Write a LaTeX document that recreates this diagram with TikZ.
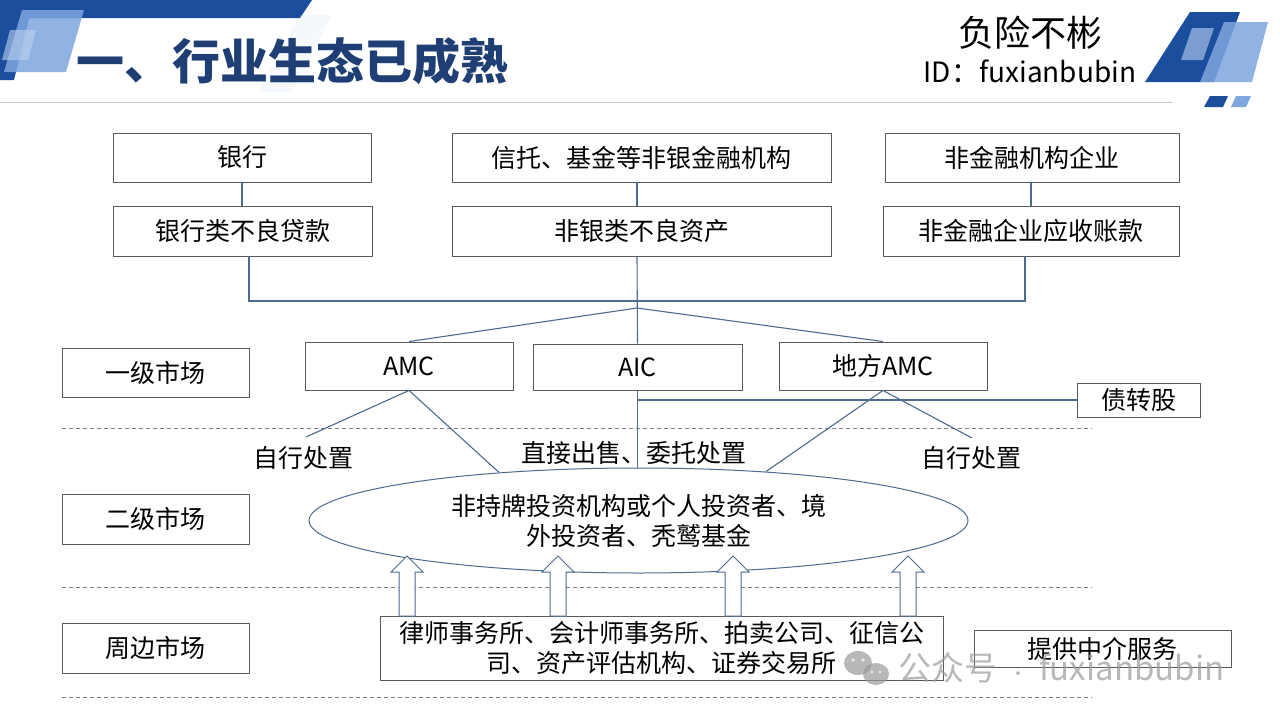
\documentclass[tikz,border=0pt]{standalone}
\usepackage{fontspec}
\setmainfont{Noto Sans CJK SC}
\usetikzlibrary{shapes.geometric}
\definecolor{boxgray}{HTML}{5A5A5A}
\definecolor{conn}{HTML}{4D6B8E}
\definecolor{sepgray}{HTML}{808080}
\definecolor{titleblue}{HTML}{1F3F74}
\definecolor{deco}{HTML}{1C4E9E}
\definecolor{decolight}{HTML}{7EA6DF}
\definecolor{decopale}{HTML}{BDD2F0}
\definecolor{wm}{HTML}{9A9A9A}
\newcommand\blockup[1]{\draw[blockarr] (#1-8,616) -- (#1-8,572) -- (#1-16,572) -- (#1,556) -- (#1+16,572) -- (#1+8,572) -- (#1+8,616) -- cycle;}
\begin{document}
\begin{tikzpicture}[x=1pt,y=-1pt,
  box/.style={draw=boxgray,line width=0.9pt,rectangle,inner sep=0pt,font=\fontsize{25}{30}\selectfont,align=center},
  lbl/.style={inner sep=0pt,font=\fontsize{25}{30}\selectfont},
  link/.style={draw=conn,line width=1.1pt},
  sepline/.style={draw=sepgray,line width=0.8pt,dash pattern=on 4pt off 3pt},
  blockarr/.style={draw=conn,fill=white,line width=1pt,line join=miter},
]
\useasboundingbox[fill=white] (0,0) rectangle (1280,720);

% ---------- header decoration ----------
\fill[deco] (0,0) -- (312,0) -- (300,18) -- (0,18) -- cycle;
\fill[decopale,opacity=0.15] (300,15) -- (332,15) -- (292,92) -- (258,92) -- cycle;
\fill[deco] (0,15) -- (30,15) -- (14,80) -- (0,80) -- cycle;
\fill[decolight,opacity=0.85] (22,10) -- (84,10) -- (66,72) -- (4,72) -- cycle;
\fill[decopale,opacity=0.6] (10,30) -- (36,30) -- (28,60) -- (2,60) -- cycle;

\fill[deco] (1190,12) -- (1240,12) -- (1214,82) -- (1145,82) -- cycle;
\fill[decolight,opacity=0.85] (1224,22) -- (1268,22) -- (1252,82) -- (1200,82) -- cycle;
\fill[decopale,opacity=0.6] (1192,28) -- (1214,28) -- (1203,60) -- (1181,60) -- cycle;
\fill[deco] (1210,96) -- (1228,96) -- (1223,107) -- (1204,107) -- cycle;
\fill[decolight] (1236,96) -- (1251,96) -- (1246,107) -- (1231,107) -- cycle;

\draw[gray!45,line width=1pt] (0,102) -- (1172,102);

\node[anchor=west,inner sep=0pt,text=titleblue,font=\fontsize{48}{48}\selectfont\bfseries] (title) at (76,61) {一、行业生态已成熟};
\node[inner sep=0pt,font=\fontsize{36}{36}\selectfont] (brand) at (1030,33) {负险不彬};
\node[inner sep=0pt,font=\fontsize{28}{28}\selectfont] (bid) at (1030,71) {ID：fuxianbubin};

% ---------- separators ----------
\draw[sepline] (62,428) -- (1092,428);
\draw[sepline] (62,587) -- (1092,587);
\draw[sepline] (62,697) -- (1092,697);

% ---------- sources ----------
\node[box,minimum width=258pt,minimum height=49pt] (bank) at (242,157.5) {银行};
\node[box,minimum width=379pt,minimum height=49pt] (trust) at (641.5,157.5) {信托、基金等非银金融机构};
\node[box,minimum width=294pt,minimum height=49pt] (nonfin) at (1032,157.5) {非金融机构企业};
\node[box,minimum width=259pt,minimum height=50pt] (bankloan) at (242.5,231) {银行类不良贷款};
\node[box,minimum width=379pt,minimum height=50pt] (nonbank) at (641.5,231) {非银类不良资产};
\node[box,minimum width=296pt,minimum height=50pt] (recv) at (1031,231) {非金融企业应收账款};

% ---------- market labels ----------
\node[box,minimum width=187pt,minimum height=49pt] (m1) at (155.5,372.5) {一级市场};
\node[box,minimum width=187pt,minimum height=50pt] (m2) at (155.5,519) {二级市场};
\node[box,minimum width=187pt,minimum height=50pt] (m3) at (155.5,648) {周边市场};

% ---------- primary market ----------
\node[box,minimum width=208pt,minimum height=48pt] (amc) at (409,366) {AMC};
\node[box,minimum width=209pt,minimum height=46pt] (aic) at (637.5,367) {AIC};
\node[box,minimum width=208pt,minimum height=48pt] (lamc) at (883,366) {地方AMC};
\node[box,minimum width=123pt,minimum height=34pt] (zzg) at (1138.5,400) {债转股};

% ---------- secondary market ----------
\node[ellipse,draw=conn,line width=1pt,minimum width=659pt,minimum height=105pt,inner sep=0pt,align=center,font=\fontsize{25}{30}\selectfont] (ell) at (638.5,520.5) {非持牌投资机构或个人投资者、境\\外投资者、秃鹫基金};

\node[lbl] (selfL) at (303,458) {自行处置};
\node[lbl] (direct) at (634,453) {直接出售、委托处置};
\node[lbl] (selfR) at (971,458) {自行处置};
\coordinate (selfLtop) at (306,437);
\coordinate (selfRtop) at (972,438);

% ---------- peripheral market ----------
\node[box,minimum width=563pt,minimum height=64pt] (svc) at (661.5,648) {律师事务所、会计师事务所、拍卖公司、征信公\\司、资产评估机构、证券交易所};
\node[box,minimum width=257pt,minimum height=37pt] (svcl) at (1102.5,648.5) {提供中介服务};

% ---------- connectors ----------
\draw[link] (bank.south) -- (bank.south |- bankloan.north);
\draw[link] ([xshift=-4.5pt]trust.south) -- ([xshift=-4.5pt]nonbank.north);
\draw[link] (nonfin.south -| recv.south) -- (recv.north);
\coordinate (hub) at (637,301);
\coordinate (fan) at (637,308);
\draw[link] ([xshift=6.5pt]bankloan.south) |- ([xshift=-6pt]recv.south |- hub) -- ([xshift=-6pt]recv.south);
\draw[link] ([xshift=-4.5pt]nonbank.south) -- (aic.north);
\draw[link] (amc.north) -- (fan) -- (lamc.north);
\draw[link] (aic.south) -- (aic.south |- ell.north);
\draw[link] (aic.south |- zzg.west) -- (zzg.west);
\draw[link] (amc.south) -- (selfLtop);
\draw[link] (amc.south) -- (ell.161);
\draw[link] (lamc.south) -- (selfRtop);
\draw[link] (lamc.south) -- (ell.21);

\blockup{407}
\blockup{558}
\blockup{733}
\blockup{908}

% ---------- watermark ----------
\begin{scope}[opacity=0.7]
\fill[wm] (858,663) ellipse (14pt and 12pt);
\fill[wm] (876,674) ellipse (13pt and 11pt);
\fill[white] (853,660) circle (1.8pt) (863,660) circle (1.8pt) (872,672) circle (1.6pt) (880,672) circle (1.6pt);
\node[anchor=west,inner sep=0pt,text=wm,font=\fontsize{33}{33}\selectfont] (wmk) at (898,668) {公众号\hspace{12pt}{\fontsize{18}{18}\selectfont ·}\hspace{12pt}fuxianbubin};
\end{scope}
\end{tikzpicture}
\end{document}
